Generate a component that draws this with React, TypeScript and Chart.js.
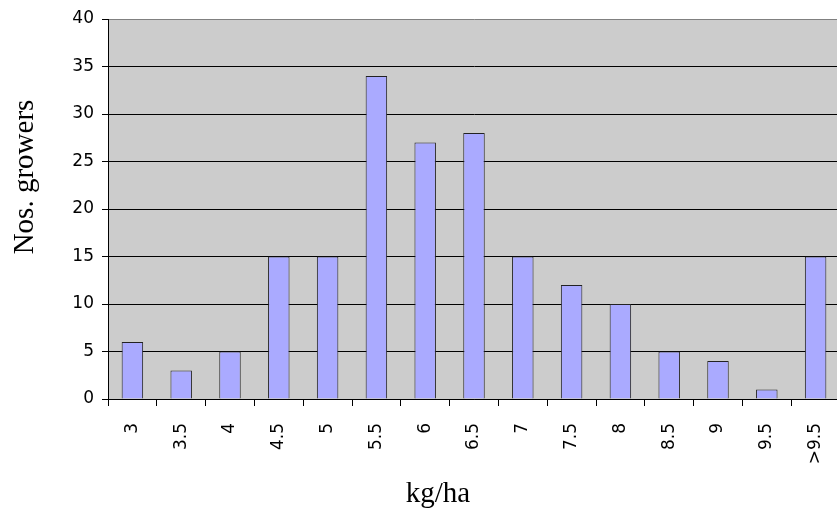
import React, { useEffect, useRef } from "react";
import { Chart, registerables } from "chart.js";

Chart.register(...registerables);

const categories = ["3", "3.5", "4", "4.5", "5", "5.5", "6", "6.5", "7", "7.5", "8", "8.5", "9", "9.5", ">9.5"];
const growers = [6, 3, 5, 15, 15, 34, 27, 28, 15, 12, 10, 5, 4, 1, 15];
const yTitle = "Nos. growers";
const xTitle = "kg/ha";

const bgPlugin = {
  id: "bgPlugin",
  beforeDraw(chart: any) {
    const { ctx, chartArea } = chart;
    ctx.save();
    ctx.fillStyle = "#CCCCCC";
    ctx.fillRect(chartArea.left, chartArea.top, chartArea.right - chartArea.left, chartArea.bottom - chartArea.top);
    ctx.restore();
  },
  afterDraw(chart: any) {
    const { ctx } = chart;
    ctx.save();
    ctx.fillStyle = "#000";
    ctx.font = "29px 'Liberation Serif', serif";
    ctx.textAlign = "center";
    ctx.textBaseline = "alphabetic";
    ctx.fillText(xTitle, 438, 502);
    ctx.translate(33, 177);
    ctx.rotate(-Math.PI / 2);
    ctx.fillText(yTitle, 0, 0);
    ctx.restore();
  },
};

export default function App() {
  const ref = useRef<HTMLCanvasElement>(null);
  useEffect(() => {
    document.body.style.margin = "0";
    document.body.style.overflow = "hidden";
    const tickFont = { family: "'DejaVu Sans', Verdana, sans-serif", size: 17 };
    const chart = new Chart(ref.current!, {
      type: "bar",
      data: {
        labels: categories,
        datasets: [
          {
            data: growers,
            backgroundColor: "#AAAAFF",
            borderColor: "#222222",
            borderWidth: 1,
            barPercentage: 0.44,
            categoryPercentage: 1,
          },
        ],
      },
      options: {
        animation: false,
        responsive: false,
        maintainAspectRatio: false,
        layout: { padding: { top: 19, right: 5, left: 0, bottom: 0 } },
        plugins: { legend: { display: false }, tooltip: { enabled: false } },
        scales: {
          x: {
            afterFit: (s: any) => {
              s.height = 116;
              s.paddingLeft = 0;
              s.paddingRight = 0;
            },
            grid: {
              offset: true,
              drawOnChartArea: false,
              drawTicks: true,
              tickLength: 7,
              color: "#000",
            },
            border: { color: "#000", width: 1 },
            ticks: {
              maxRotation: 90,
              minRotation: 90,
              padding: 17,
              color: "#000",
              font: tickFont,
            },
          },
          y: {
            min: 0,
            max: 40,
            afterFit: (s: any) => {
              s.width = 108;
              s.paddingTop = 0;
              s.paddingBottom = 0;
            },
            grid: {
              color: (c: any) => (c.tick && c.tick.value === 40 ? "#808080" : "#000"),
              lineWidth: 1,
              tickLength: 6,
              tickColor: "#000",
            },
            border: { color: "#000", width: 1 },
            ticks: {
              stepSize: 5,
              padding: 8,
              color: "#000",
              font: tickFont,
            },
          },
        },
      },
      plugins: [bgPlugin],
    });
    return () => chart.destroy();
  }, []);
  return (
    <div style={{ width: 845, height: 515, overflow: "hidden" }}>
      <canvas ref={ref} width={845} height={515} style={{ display: "block" }} />
    </div>
  );
}
